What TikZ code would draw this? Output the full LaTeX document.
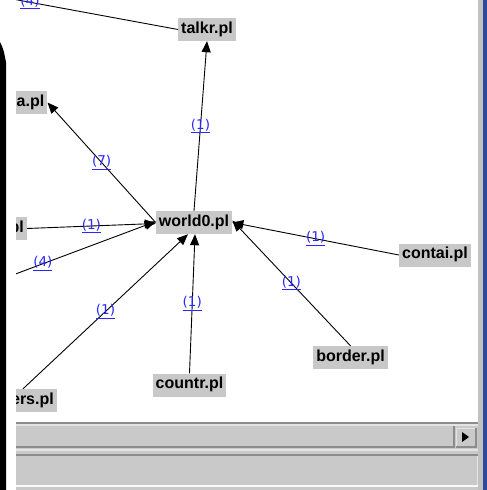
\documentclass[tikz,border=0pt]{standalone}
\usepackage{fontspec}
\setmainfont{Liberation Sans}
\newfontfamily\countfont{DejaVu Sans}
\usetikzlibrary{arrows.meta,calc}
\definecolor{filegray}{RGB}{200,200,200}
\definecolor{linkblue}{RGB}{40,40,250}
\definecolor{panelgray}{RGB}{201,201,201}
\definecolor{darkline}{RGB}{140,140,140}
\definecolor{lightline}{RGB}{228,228,228}
\definecolor{framegray}{RGB}{194,194,194}
\definecolor{frameblue}{RGB}{42,76,156}

\begin{document}
\begin{tikzpicture}[x=1pt,y=-1pt,
  file/.style={fill=filegray, text=black,
    font=\fontsize{16}{16}\selectfont\bfseries,
    inner xsep=3pt, inner ysep=0pt, minimum height=23pt,
    text height=11.5pt, text depth=4pt},
  dep/.style={draw=black, line width=0.9pt,
    -{Triangle[length=11pt,width=9pt]}},
  count/.style={text=linkblue, font=\countfont\fontsize{13.5}{13.5}\selectfont,
    inner sep=0pt}
]
\useasboundingbox (0,0) rectangle (487,490);
\fill[white] (0,0) rectangle (487,490);

% window frame: black edge on the left, grey/blue edge on the right
\fill[black] (0,42) -- (2,46) -- (4,52) -- (6,62) -- (6,490) -- (0,490) -- cycle;
\fill[framegray] (478,0) rectangle (483,490);
\fill[frameblue] (483,0) rectangle (487,490);

% graph canvas
\begin{scope}
\clip (16,0) rectangle (478,421.5);

\node[file] (talkr)  at (207,29.5) {talkr.pl};
\node[file, anchor=east] (apl) at (47.5,102.5) {a.pl};
\node[file, anchor=east] (pl) at (27,228.5) {pl};
\node[file] (world0) at (194,222.5) {world0.pl};
\node[file] (contai) at (435,255) {contai.pl};
\node[file] (border) at (350.5,357.5) {border.pl};
\node[file] (countr) at (189.5,385) {countr.pl};
\node[file, anchor=east] (ers) at (57,400.5) {ers.pl};

% targets lying outside the visible area
\coordinate (offleft) at (-70,306);
\coordinate (offtop) at (-118,-25);

\draw[dep] (world0.north) -- node[count] (l1) {\underline{(1)}} (talkr.south);
\draw[dep] (world0.west) -- node[count] (l2) {\underline{(7)}} (apl.east);
\draw[dep] (pl.east) -- node[count] (l3) {\underline{(1)}} ([yshift=-1pt]world0.west);
\draw[dep] (offleft) -- node[count] (l4) {\underline{(4)}} ([yshift=1pt]world0.west);
\draw[dep] ([xshift=-34pt]ers.north east) -- node[count] (l5) {\underline{(1)}} ([xshift=-6pt]world0.south);
\draw[dep] (countr.north) -- node[count] (l6) {\underline{(1)}} ([xshift=1pt]world0.south);
\draw[dep] (border.north) -- node[count] (l7) {\underline{(1)}} ([yshift=2pt]world0.east);
\draw[dep] (contai.west) -- node[count] (l8) {\underline{(1)}} (world0.east);
\draw[dep] (talkr.west) -- node[count] (l9) {\underline{(4)}} (offtop);
\end{scope}

% horizontal scroll bar and status panel
\fill[panelgray] (16,421.5) rectangle (478,490);
\draw[darkline, line width=2pt] (16,422.5) -- (478,422.5);
\draw[lightline, line width=2pt] (16,425) -- (478,425);
\draw[darkline, line width=2pt] (16,446.5) -- (455,446.5);
\draw[darkline, line width=1.5pt] (454,426) -- (454,447);
\fill[panelgray] (456,428) rectangle (476,447);
\draw[lightline, line width=1pt] (456,447) -- (456,428) -- (476,428);
\draw[darkline, line width=1.5pt] (456,447) -- (476,447) -- (476,428);
\fill[black] (462,432) -- (469,437) -- (462,442) -- cycle;
\draw[lightline, line width=2pt] (16,449.5) -- (478,449.5);
\draw[darkline, line width=2pt] (16,455) -- (478,455);
\draw[lightline, line width=1pt] (477,456) -- (477,486);
\draw[white!95!gray, line width=2pt] (16,486) -- (478,486);
\end{tikzpicture}
\end{document}
